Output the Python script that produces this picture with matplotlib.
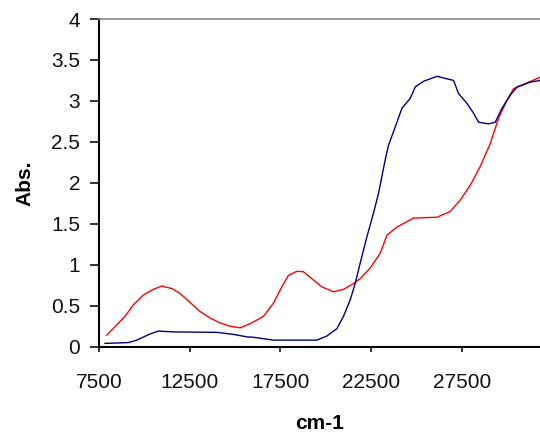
#!/usr/bin/env python3

import matplotlib
matplotlib.use('Agg')
import matplotlib.pyplot as plt
import numpy as np

# spectra (wavenumber in cm-1, absorbance)
red_x = [7925, 8476, 8934, 9391, 9943, 10494, 10957, 11509, 11966, 12518,
         13069, 13621, 14172, 14723, 15275, 15826, 16560, 17111, 17574, 17938,
         18401, 18765, 19228, 19780, 20419, 20971, 21522, 21892, 22443, 22994,
         23364, 23915, 24830, 26121, 26854, 27406, 27957, 28508, 29060, 29517,
         29981, 30345, 31083, 31817]
red_y = [0.14, 0.265, 0.37, 0.51, 0.63, 0.70, 0.74, 0.71, 0.65, 0.54,
         0.43, 0.35, 0.29, 0.25, 0.23, 0.28, 0.37, 0.53, 0.73, 0.87,
         0.92, 0.915, 0.83, 0.73, 0.67, 0.70, 0.77, 0.83, 0.96, 1.14,
         1.36, 1.46, 1.57, 1.58, 1.65, 1.79, 1.97, 2.20, 2.48, 2.79,
         3.01, 3.15, 3.22, 3.29]

blue_x = [7831, 9116, 9579, 10312, 10770, 11691, 13990, 14905, 15644, 16008,
          17111, 19504, 20055, 20607, 20971, 21340, 21616, 21892, 22261, 22625,
          22901, 23270, 23452, 23821, 24191, 24649, 24924, 25382, 26121, 27036,
          27312, 27775, 28139, 28415, 28966, 29335, 29705, 30163, 30532, 31265,
          31817]
blue_y = [0.04, 0.05, 0.08, 0.155, 0.19, 0.18, 0.175, 0.15, 0.12, 0.115,
          0.08, 0.08, 0.13, 0.22, 0.37, 0.57, 0.77, 1.02, 1.34, 1.63,
          1.87, 2.28, 2.46, 2.68, 2.91, 3.03, 3.17, 3.24, 3.30, 3.25,
          3.09, 2.97, 2.85, 2.74, 2.72, 2.74, 2.91, 3.07, 3.17, 3.23,
          3.25]

xticks = [7500, 12500, 17500, 22500, 27500]
yticks = [0, 0.5, 1, 1.5, 2, 2.5, 3, 3.5, 4]
yticklabels = ['0', '0.5', '1', '1.5', '2', '2.5', '3', '3.5', '4']

plt.rcParams['font.family'] = ['Liberation Sans', 'DejaVu Sans']

fig = plt.figure(figsize=(5.4, 4.34), dpi=100)
ax = fig.add_axes([0.1833, 0.2012, 0.8167, 0.755])

ax.plot(red_x, red_y, color='#ff0000', lw=1.0)
ax.plot(blue_x, blue_y, color='#000080', lw=1.0)

ax.set_xlim(7500, 31800)
ax.set_ylim(0, 4)
ax.set_xticks(xticks)
ax.set_xticklabels([str(t) for t in xticks])
ax.set_yticks(yticks)
ax.set_yticklabels(yticklabels)

ax.spines['left'].set_linewidth(1.5)
ax.spines['bottom'].set_linewidth(1.5)
ax.spines['top'].set_color('#888888')
ax.spines['top'].set_linewidth(1.2)
ax.spines['right'].set_visible(False)

ax.tick_params(axis='y', length=6.5, width=1.2, pad=7, labelsize=15, colors='#111111')
ax.tick_params(axis='x', length=3.6, width=1.2, pad=15, labelsize=15, colors='#111111')

ax.set_xlabel('cm-1', fontsize=15, fontweight='bold', labelpad=16)
ax.set_ylabel('Abs.', fontsize=15, fontweight='bold', labelpad=12)

fig.savefig('out.png', dpi=100)
